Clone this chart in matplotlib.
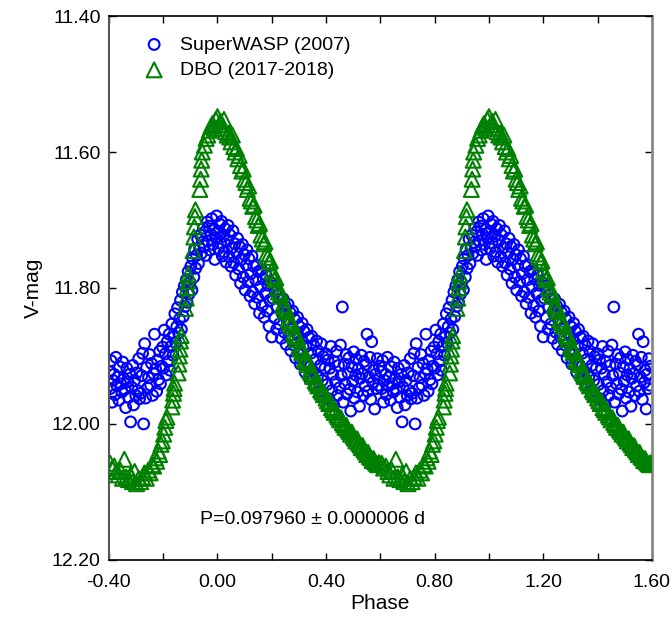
import matplotlib
matplotlib.use("Agg")
import matplotlib.pyplot as plt
import numpy as np
from matplotlib.ticker import MultipleLocator, FormatStrFormatter

plt.rcParams['font.family'] = ['Liberation Sans', 'DejaVu Sans']

# ---------------- data (phase in [-0.4, 0.6); shown again at phase + 1) ----------------
wasp_phase = [
    -0.398, -0.395, -0.392, -0.388, -0.385, -0.381, -0.378, -0.374, -0.370, -0.367,
    -0.363, -0.360, -0.356, -0.352, -0.349, -0.345, -0.341, -0.338, -0.334, -0.330,
    -0.327, -0.323, -0.320, -0.316, -0.312, -0.309, -0.305, -0.301, -0.298, -0.294,
    -0.290, -0.287, -0.283, -0.279, -0.276, -0.272, -0.268, -0.265, -0.261, -0.257,
    -0.254, -0.250, -0.246, -0.243, -0.239, -0.235, -0.232, -0.228, -0.224, -0.221,
    -0.217, -0.213, -0.210, -0.206, -0.202,
    -0.199, -0.196, -0.192, -0.189, -0.185, -0.182, -0.178, -0.175, -0.171, -0.168,
    -0.164, -0.161, -0.157, -0.154, -0.150, -0.147, -0.143, -0.140, -0.136, -0.133,
    -0.129, -0.126, -0.122, -0.119, -0.115, -0.112, -0.108, -0.105, -0.101,
    -0.098, -0.094, -0.091, -0.087, -0.084, -0.080, -0.077, -0.073, -0.070, -0.066,
    -0.063, -0.059, -0.056, -0.052, -0.049, -0.045, -0.042, -0.038, -0.035, -0.031,
    -0.028, -0.024, -0.021, -0.017, -0.014, -0.010, -0.007, -0.003,
    0.001, 0.004, 0.008, 0.011, 0.015, 0.018, 0.022, 0.025, 0.029, 0.032,
    0.036, 0.039, 0.043, 0.046, 0.050, 0.053, 0.057, 0.060, 0.064, 0.067,
    0.071, 0.074, 0.078, 0.081, 0.085, 0.088, 0.092, 0.095, 0.099, 0.102,
    0.106, 0.109, 0.113, 0.116, 0.120, 0.123, 0.127, 0.130, 0.134, 0.137,
    0.141, 0.144, 0.148, 0.151, 0.155, 0.158, 0.162, 0.165, 0.169, 0.172,
    0.176, 0.179, 0.183, 0.186, 0.190, 0.193, 0.197,
    0.200, 0.204, 0.207, 0.211, 0.214, 0.218, 0.221, 0.225, 0.228, 0.232,
    0.235, 0.239, 0.242, 0.246, 0.249, 0.253, 0.256, 0.260, 0.263, 0.267,
    0.270, 0.274, 0.277, 0.281, 0.284, 0.288, 0.291, 0.295, 0.298, 0.302,
    0.305, 0.309, 0.312, 0.316, 0.319, 0.323, 0.326, 0.330, 0.333, 0.337,
    0.340, 0.344, 0.347, 0.351, 0.354, 0.358, 0.361, 0.365, 0.368, 0.372,
    0.375, 0.379, 0.382, 0.386, 0.389, 0.393, 0.396,
    0.400, 0.404, 0.407, 0.411, 0.414, 0.418, 0.421, 0.425, 0.428, 0.432,
    0.435, 0.439, 0.442, 0.446, 0.449, 0.453, 0.456, 0.460, 0.463, 0.467,
    0.470, 0.474, 0.477, 0.481, 0.484, 0.488, 0.491, 0.495, 0.498, 0.502,
    0.505, 0.509, 0.512, 0.516, 0.519, 0.523, 0.526, 0.530, 0.533, 0.537,
    0.540, 0.544, 0.547, 0.551, 0.554, 0.558, 0.561, 0.565, 0.568, 0.572,
    0.575, 0.579, 0.582, 0.586, 0.589, 0.593, 0.596,
]
wasp_mag = [
    11.923, 11.948, 11.907, 11.968, 11.936, 11.927, 11.957, 11.902, 11.944, 11.931,
    11.965, 11.916, 11.941, 11.953, 11.909, 11.934, 11.949, 11.976, 11.918, 11.938,
    11.961, 11.927, 11.997, 11.946, 11.914, 11.972, 11.936, 11.958, 11.925, 11.951,
    11.904, 11.963, 11.955, 11.929, 11.896, 12.000, 11.882, 11.962, 11.917, 11.947,
    11.932, 11.898, 11.943, 11.911, 11.958, 11.926, 11.868, 11.919, 11.952, 11.906,
    11.935, 11.893, 11.941, 11.915, 11.887,
    11.918, 11.862, 11.897, 11.928, 11.879, 11.908, 11.868, 11.921, 11.886, 11.853,
    11.899, 11.872, 11.838, 11.881, 11.857, 11.829, 11.866, 11.846, 11.818, 11.861,
    11.806, 11.842, 11.797, 11.827, 11.788, 11.821, 11.776, 11.809, 11.792,
    11.768, 11.803, 11.757, 11.784, 11.743, 11.771, 11.752, 11.728, 11.764, 11.741,
    11.722, 11.749, 11.733, 11.712, 11.738, 11.717, 11.752, 11.703, 11.731, 11.709,
    11.744, 11.721, 11.698, 11.736, 11.714, 11.758, 11.726, 11.694,
    11.718, 11.742, 11.706, 11.734, 11.702, 11.753, 11.724, 11.747, 11.713, 11.762,
    11.731, 11.708, 11.754, 11.722, 11.768, 11.741, 11.716, 11.763, 11.735, 11.781,
    11.748, 11.727, 11.772, 11.739, 11.793, 11.758, 11.736, 11.784, 11.751, 11.803,
    11.766, 11.744, 11.791, 11.757, 11.812, 11.779, 11.753, 11.806, 11.768, 11.823,
    11.788, 11.766, 11.814, 11.776, 11.837, 11.798, 11.773, 11.826, 11.787, 11.843,
    11.808, 11.781, 11.834, 11.796, 11.856, 11.818, 11.792,
    11.872, 11.815, 11.797, 11.844, 11.806, 11.861, 11.828, 11.809, 11.853, 11.817,
    11.874, 11.838, 11.816, 11.865, 11.826, 11.883, 11.847, 11.824, 11.871, 11.836,
    11.892, 11.858, 11.834, 11.884, 11.846, 11.903, 11.866, 11.843, 11.894, 11.857,
    11.912, 11.877, 11.852, 11.904, 11.864, 11.924, 11.886, 11.861, 11.913, 11.873,
    11.934, 11.896, 11.871, 11.922, 11.884, 11.943, 11.905, 11.878, 11.931, 11.893,
    11.952, 11.914, 11.882, 11.936, 11.901, 11.961, 11.918,
    11.897, 11.942, 11.906, 11.963, 11.918, 11.886, 11.951, 11.927, 11.972, 11.909,
    11.938, 11.893, 11.958, 11.914, 11.947, 11.884, 11.929, 11.828, 11.968, 11.912,
    11.941, 11.898, 11.956, 11.925, 11.903, 11.949, 11.981, 11.916, 11.937, 11.894,
    11.962, 11.928, 11.905, 11.953, 11.919, 11.974, 11.933, 11.899, 11.926, 11.958,
    11.908, 11.944, 11.913, 11.868, 11.952, 11.931, 11.902, 11.964, 11.879, 11.939,
    11.921, 11.978, 11.927, 11.948, 11.904, 11.943, 11.915,
]

dbo_phase = [
    -0.395, -0.388, -0.380, -0.372, -0.365, -0.358, -0.350, -0.343, -0.336, -0.328,
    -0.320, -0.313, -0.305, -0.298, -0.290, -0.283, -0.276, -0.269, -0.262, -0.255,
    -0.248, -0.241, -0.235, -0.229, -0.224, -0.218, -0.213, -0.208, -0.203, -0.198,
    -0.194, -0.190, -0.186,
    -0.168, -0.165, -0.162, -0.160, -0.158,
    -0.145, -0.142, -0.140, -0.138, -0.136, -0.134,
    -0.118, -0.115, -0.112, -0.110, -0.108,
    -0.090, -0.087, -0.085, -0.083, -0.081,
    -0.065, -0.062, -0.060, -0.058, -0.056,
    -0.048, -0.042, -0.036, -0.030, -0.024, -0.018, -0.012, -0.006, 0.000, 0.006,
    0.012, 0.018, 0.024, 0.030, 0.036, 0.042,
    0.045, 0.050, 0.055, 0.060, 0.065, 0.070, 0.075, 0.080, 0.085, 0.090,
    0.095, 0.100, 0.105, 0.110, 0.115, 0.120, 0.125, 0.130, 0.135, 0.140,
    0.145, 0.150, 0.155, 0.160, 0.165, 0.170, 0.175, 0.180, 0.185, 0.190,
    0.195, 0.200, 0.205, 0.210, 0.215, 0.220, 0.225, 0.230, 0.235, 0.240,
    0.245, 0.250, 0.255, 0.260, 0.265, 0.270, 0.275, 0.280, 0.285, 0.290,
    0.295, 0.300, 0.305, 0.310, 0.315, 0.320, 0.325, 0.330, 0.335, 0.340,
    0.345, 0.350, 0.355, 0.360, 0.365, 0.370, 0.375, 0.380, 0.385, 0.390,
    0.395, 0.400, 0.405, 0.410, 0.415, 0.420, 0.425, 0.430, 0.435, 0.440,
    0.445, 0.450, 0.455, 0.460, 0.465, 0.470, 0.475, 0.480, 0.485, 0.490,
    0.495, 0.500, 0.505, 0.510, 0.515, 0.520, 0.525, 0.530, 0.535, 0.540,
    0.545, 0.550, 0.555, 0.560, 0.565, 0.570, 0.575, 0.580, 0.585, 0.590,
    0.595,
]
dbo_mag = [
    12.058, 12.065, 12.062, 12.070, 12.075, 12.068, 12.080, 12.052, 12.078, 12.082,
    12.075, 12.085, 12.070, 12.088, 12.080, 12.085, 12.078, 12.072, 12.080, 12.068,
    12.072, 12.060, 12.062, 12.050, 12.055, 12.040, 12.045, 12.030, 12.025, 12.015,
    12.005, 11.995, 11.990,
    11.975, 11.965, 11.955, 11.948, 11.940,
    11.925, 11.912, 11.900, 11.890, 11.878, 11.870,
    11.830, 11.815, 11.800, 11.790, 11.780,
    11.745, 11.725, 11.710, 11.695, 11.685,
    11.655, 11.640, 11.625, 11.612, 11.600,
    11.590, 11.580, 11.575, 11.568, 11.562, 11.558, 11.565, 11.552, 11.548, 11.560,
    11.555, 11.565, 11.552, 11.570, 11.575, 11.572,
    11.578, 11.585, 11.575, 11.592, 11.600, 11.595, 11.610, 11.605, 11.620, 11.628,
    11.625, 11.640, 11.645, 11.655, 11.650, 11.668, 11.672, 11.680, 11.678, 11.695,
    11.700, 11.708, 11.705, 11.722, 11.728, 11.735, 11.732, 11.750, 11.755, 11.762,
    11.760, 11.775, 11.782, 11.788, 11.785, 11.800, 11.806, 11.812, 11.808, 11.825,
    11.828, 11.835, 11.832, 11.846, 11.850, 11.856, 11.852, 11.866, 11.870, 11.876,
    11.872, 11.886, 11.890, 11.895, 11.892, 11.905, 11.908, 11.913, 11.910, 11.922,
    11.925, 11.930, 11.927, 11.937, 11.940, 11.944, 11.942, 11.950, 11.953, 11.957,
    11.955, 11.962, 11.966, 11.970, 11.967, 11.976, 11.979, 11.983, 11.980, 11.987,
    11.990, 11.994, 11.991, 11.998, 12.001, 12.005, 12.002, 12.008, 12.011, 12.015,
    12.012, 12.018, 12.021, 12.025, 12.022, 12.028, 12.031, 12.035, 12.032, 12.038,
    12.041, 12.045, 12.042, 12.048, 12.050, 12.054, 12.051, 12.056, 12.058, 12.060,
    12.057,
]

x_ticks = [-0.40, 0.00, 0.40, 0.80, 1.20, 1.60]
y_ticks = [11.40, 11.60, 11.80, 12.00, 12.20]
period_text = "P=0.097960 \u00b1 0.000006 d"

# ---------------- figure ----------------
fig = plt.figure(figsize=(6.72, 6.20), dpi=100)
ax = fig.add_axes([0.162, 0.097, 0.808, 0.877])

wp = np.array(wasp_phase); wm = np.array(wasp_mag)
dp = np.array(dbo_phase); dm = np.array(dbo_mag)

blue = '#0000ff'
green = '#008000'

ax.scatter(np.concatenate([wp, wp + 1]), np.concatenate([wm, wm]), s=60,
           facecolors='none', edgecolors=blue, linewidths=1.5, zorder=2,
           label='SuperWASP (2007)')
ax.scatter(np.concatenate([dp, dp + 1]), np.concatenate([dm, dm]), s=115, marker='^',
           facecolors='none', edgecolors=green, linewidths=1.5, zorder=3,
           label='DBO (2017-2018)')

ax.set_xlim(-0.4, 1.6)
ax.set_ylim(12.20, 11.40)
ax.set_xticks(x_ticks)
ax.xaxis.set_minor_locator(MultipleLocator(0.2))
ax.set_yticks(y_ticks)
ax.xaxis.set_major_formatter(FormatStrFormatter('%.2f'))
ax.yaxis.set_major_formatter(FormatStrFormatter('%.2f'))

ax.tick_params(which='both', direction='in', top=True, right=True, length=5, width=1)
ax.tick_params(axis='x', which='major', labelsize=14, pad=10)
ax.tick_params(axis='y', which='major', labelsize=14, pad=6)

for side in ['top', 'bottom']:
    ax.spines[side].set_color('black')
    ax.spines[side].set_linewidth(1.2)
ax.spines['left'].set_color('#555555')
ax.spines['left'].set_linewidth(1.5)
ax.spines['right'].set_color('#888888')
ax.spines['right'].set_linewidth(2.0)

ax.set_xlabel('Phase', fontsize=15, labelpad=2)
ax.set_ylabel('V-mag', fontsize=15, labelpad=6)

ax.text(0.352, 12.141, period_text, fontsize=14, ha='center', va='center')

leg = ax.legend(loc='upper left', bbox_to_anchor=(0.035, 0.985), frameon=False,
                fontsize=14, handletextpad=0.6, labelspacing=0.4, borderaxespad=0.2,
                handlelength=1.5, scatterpoints=1)

fig.savefig('out.png', dpi=100)
